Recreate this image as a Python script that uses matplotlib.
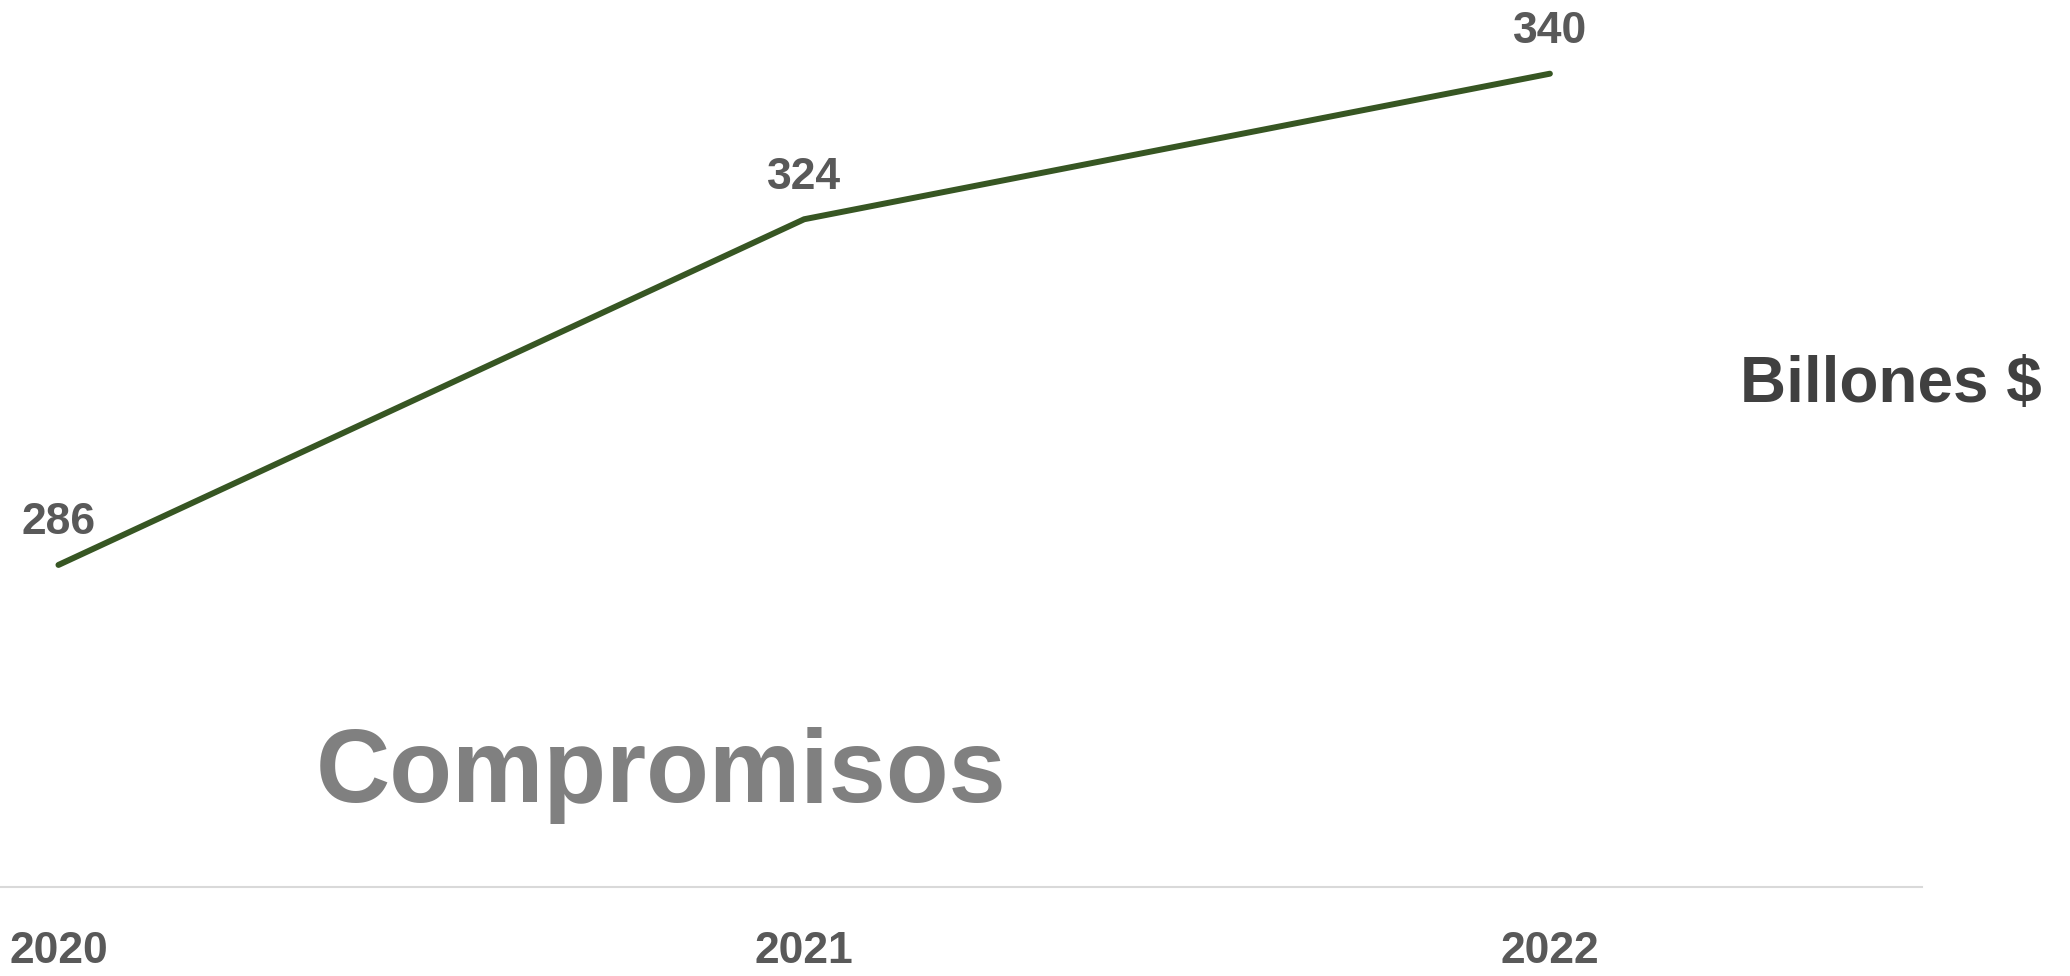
import matplotlib
matplotlib.use('Agg')
import matplotlib.pyplot as plt

years = ['2020', '2021', '2022']
compromisos = [286, 324, 340]

plt.rcParams['font.family'] = ['Liberation Sans', 'DejaVu Sans']
plt.rcParams['font.weight'] = 'bold'

fig = plt.figure(figsize=(20.7, 9.76), dpi=100)
ax = fig.add_axes([0, 0.0912, 1922 / 2070, 0.9088])

x = list(range(len(years)))
ax.plot(x, compromisos, color='#375623', lw=4.3, solid_capstyle='round')

# data labels above each point
for xi, v in zip(x, compromisos):
    ax.annotate(str(v), (xi, v), xytext=(0, 22), textcoords='offset points',
                ha='center', va='baseline', fontsize=32, color='#595959',
                fontweight='bold')

ax.set_xlim(-0.0784, 2.499)
ax.set_ylim(250.6, 348.1)

ax.set_xticks(x)
ax.set_xticklabels(years, fontsize=32, color='#595959', fontweight='bold')
ax.tick_params(axis='x', length=0, pad=32)
ax.set_yticks([])
for s in ['top', 'right', 'left']:
    ax.spines[s].set_visible(False)
ax.spines['bottom'].set_color('#D9D9D9')
ax.spines['bottom'].set_linewidth(1.5)

fig.text(661 / 2070, 1 - 802 / 976, 'Compromisos', ha='center', va='baseline',
         fontsize=74, color='#808080', fontweight='bold')
fig.text(1891 / 2070, 1 - 402 / 976, 'Billones $', ha='center', va='baseline',
         fontsize=46, color='#404040', fontweight='bold')

fig.savefig('out.png', dpi=100)
